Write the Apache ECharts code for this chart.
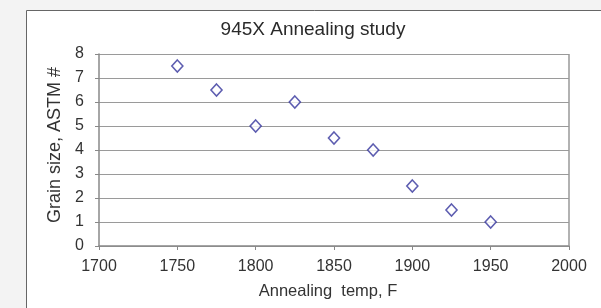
<!doctype html>
<html lang="en">
<head>
<meta charset="UTF-8">
<title>945X Annealing study</title>
<style>
  html, body { margin: 0; padding: 0; background: #f3f3f3; }
  #main { width: 601px; height: 308px; }
</style>
</head>
<body>
<div id="main"></div>
<script src="https://cdn.jsdelivr.net/npm/echarts@6/dist/echarts.min.js"></script>
<script>
// data
var temps = [1750, 1775, 1800, 1825, 1850, 1875, 1900, 1925, 1950];
var grainSize = [7.5, 6.5, 5, 6, 4.5, 4, 2.5, 1.5, 1];

var points = [];
for (var i = 0; i < temps.length; i++) {
    points.push([temps[i], grainSize[i]]);
}

var myChart = echarts.init(document.getElementById('main'));
var font = 'Liberation Sans, Arial, sans-serif';

var option = {
    animation: false,
    graphic: [{
        type: 'rect',
        z: -10,
        shape: { x: 26.5, y: 10.5, width: 600, height: 310 },
        style: { fill: '#ffffff', stroke: '#666666', lineWidth: 1 }
    }],
    title: {
        text: '945X Annealing study',
        left: 313,
        top: 20,
        padding: 0,
        textAlign: 'center',
        textStyle: { fontFamily: font, fontSize: 19, fontWeight: 'normal', color: '#2a2a2a' }
    },
    grid: { left: 99, right: 32, top: 54, bottom: 62 },
    xAxis: {
        type: 'value',
        min: 1700, max: 2000, interval: 50,
        name: 'Annealing  temp, F',
        nameLocation: 'middle',
        nameGap: 37,
        nameTextStyle: { fontFamily: font, fontSize: 16.5, color: '#333', padding: [0, 12, 0, 0] },
        axisLine: { show: true, lineStyle: { color: '#888', width: 1.5 } },
        axisTick: { show: true, length: 4, lineStyle: { color: '#888' } },
        axisLabel: {
            fontFamily: font, fontSize: 16, color: '#333', margin: 13,
            formatter: function (v) { return String(v); }
        },
        splitLine: { show: false }
    },
    yAxis: {
        type: 'value',
        min: 0, max: 8, interval: 1,
        name: 'Grain size, ASTM #',
        nameLocation: 'middle',
        nameGap: 35,
        nameTextStyle: { fontFamily: font, fontSize: 18, color: '#333', padding: [0, 0, 0, 10] },
        axisLine: { show: true, lineStyle: { color: '#888', width: 1.5 } },
        axisTick: { show: true, length: 4, lineStyle: { color: '#888' } },
        axisLabel: { fontFamily: font, fontSize: 16, color: '#333', margin: 15 },
        splitLine: { show: true, lineStyle: { color: '#9a9a9a', width: 1.2 } }
    },
    series: [
        {
            type: 'scatter',
            data: points,
            symbol: 'diamond',
            symbolSize: [11, 12],
            itemStyle: { color: '#ffffff', borderColor: '#34349c', borderWidth: 1.6 }
        },
        {
            // right border of the plot area
            type: 'line',
            data: [[2000, 0], [2000, 8]],
            symbol: 'none',
            silent: true,
            lineStyle: { color: '#999', width: 1.5 }
        }
    ]
};

myChart.setOption(option);
</script>
</body>
</html>
